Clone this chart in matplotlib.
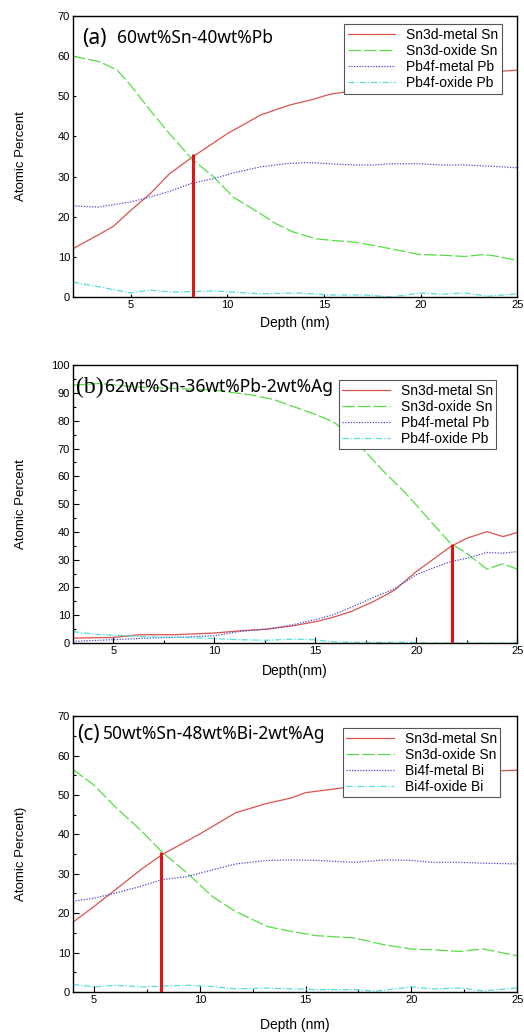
#!/usr/bin/env python3

import matplotlib
matplotlib.use('Agg')
import matplotlib.pyplot as plt
from matplotlib.ticker import MultipleLocator

plt.rcParams.update({
    'font.family': ['Liberation Sans', 'DejaVu Sans'],
    'font.size': 8,
    'xtick.labelsize': 8,
    'ytick.labelsize': 8,
    'axes.linewidth': 1.0,
    'xtick.direction': 'in',
    'ytick.direction': 'in',
})

# colours used in the original (Origin-style)
C_METAL = '#d9534f'
C_OXIDE = '#55dd44'
C_PB = '#4a4ad0'
C_PBOX = '#55dddd'
C_MARK = '#e01515'

# ---------------- panel (a): 60wt%Sn-40wt%Pb ----------------
a_sn_x = [2.0, 3.4, 4.1, 5.0, 6.0, 7.0, 8.2, 10.0, 11.7, 13.2, 14.4, 15.3, 16.0,
          17.0, 18.0, 19.0, 20.0, 21.0, 22.0, 23.0, 24.0, 25.0]
a_sn_y = [12.0, 15.7, 17.6, 21.6, 25.7, 30.7, 34.9, 40.7, 45.3, 47.8, 49.2, 50.5, 51.0,
          52.0, 53.0, 53.8, 54.5, 55.0, 55.5, 56.0, 56.2, 56.5]
a_ox_x = [2.0, 3.4, 4.3, 5.0, 6.0, 7.0, 8.2, 9.3, 10.3, 11.7, 12.5, 13.4, 14.6, 15.4,
          16.5, 17.5, 18.9, 19.9, 21.1, 22.3, 23.3, 24.0, 25.0]
a_ox_y = [60.0, 58.6, 56.5, 52.7, 46.5, 40.7, 34.2, 29.9, 24.9, 20.8, 18.3, 16.2, 14.5,
          14.1, 13.7, 12.9, 11.6, 10.6, 10.4, 10.1, 10.6, 10.1, 9.1]
a_pb_x = [2.0, 3.3, 4.1, 5.0, 6.0, 7.0, 8.2, 9.3, 10.3, 11.7, 13.0, 14.1, 15.3, 16.5,
          17.7, 18.3, 19.9, 21.1, 22.3, 23.5, 25.0]
a_pb_y = [22.7, 22.4, 23.0, 23.7, 24.9, 26.3, 28.4, 29.5, 30.9, 32.4, 33.2, 33.5, 33.2,
          32.9, 32.9, 33.2, 33.2, 32.9, 32.9, 32.6, 32.2]
a_pbo_x = [2.0, 3.4, 5.0, 6.0, 7.2, 9.3, 10.3, 11.7, 13.7, 15.3, 17.1, 18.5, 20.0,
           21.1, 22.3, 23.5, 25.0]
a_pbo_y = [3.7, 2.5, 1.0, 1.7, 1.2, 1.5, 1.2, 0.8, 1.0, 0.5, 0.5, 0.0, 1.0,
           0.7, 1.0, 0.2, 0.8]
a_mark = (8.24, 35.5)

# ---------------- panel (b): 62wt%Sn-36wt%Pb-2wt%Ag ----------------
b_sn_x = [3.0, 5.0, 6.3, 8.0, 10.0, 11.3, 12.6, 13.9, 15.1, 15.9, 16.8, 17.9, 18.9,
          20.0, 20.8, 21.7, 22.5, 23.5, 24.3, 25.0]
b_sn_y = [1.8, 2.0, 3.0, 3.0, 3.6, 4.4, 5.0, 6.2, 7.8, 9.3, 11.4, 15.0, 18.9,
          25.7, 29.9, 34.7, 37.7, 40.1, 38.3, 39.8]
b_ox_x = [3.0, 4.3, 6.0, 8.0, 10.0, 11.9, 12.9, 14.9, 15.9, 16.7, 17.4, 18.4, 19.4,
          20.0, 20.8, 21.7, 22.5, 23.5, 24.3, 25.0]
b_ox_y = [92.8, 93.4, 92.2, 91.6, 91.0, 89.2, 87.7, 82.6, 79.6, 75.0, 69.5, 61.7, 54.5,
          49.7, 43.1, 35.9, 32.3, 26.6, 28.5, 26.6]
b_pb_x = [3.0, 5.0, 6.8, 8.6, 10.0, 11.3, 12.6, 13.9, 15.1, 15.9, 16.9, 18.0, 18.9,
          20.0, 20.8, 21.7, 22.5, 23.5, 24.3, 25.0]
b_pb_y = [0.6, 1.2, 1.8, 2.2, 2.6, 4.2, 5.0, 6.6, 8.6, 10.2, 13.2, 16.8, 19.4,
          24.6, 26.9, 29.3, 30.5, 32.6, 32.3, 32.9]
b_pbo_x = [3.0, 4.3, 5.3, 6.8, 8.6, 10.0, 11.3, 12.6, 13.9, 14.9, 15.9, 17.5, 19.2,
           20.8, 23.0, 25.0]
b_pbo_y = [4.1, 3.0, 2.8, 2.2, 2.0, 1.6, 1.2, 1.0, 1.4, 1.2, 0.4, 0.2, 0.3,
           0.0, 0.0, 0.0]
b_mark = (21.75, 35.6)

# ---------------- panel (c): 50wt%Sn-48wt%Bi-2wt%Ag ----------------
c_sn_x = [4.0, 5.0, 6.0, 7.2, 8.2, 10.0, 11.7, 13.2, 14.3, 15.0, 16.2, 16.6,
          18.0, 19.0, 20.0, 21.0, 22.0, 23.0, 24.0, 25.0]
c_sn_y = [17.7, 21.7, 25.9, 31.0, 34.8, 40.1, 45.5, 47.9, 49.2, 50.6, 51.4, 51.7,
          52.8, 53.6, 54.3, 54.9, 55.4, 55.8, 56.1, 56.3]
c_ox_x = [4.0, 5.0, 6.0, 7.2, 8.2, 9.4, 10.6, 11.7, 13.2, 14.3, 15.5, 17.3, 18.7,
          20.0, 21.0, 22.3, 23.4, 25.0]
c_ox_y = [56.5, 52.5, 47.0, 41.1, 35.6, 30.2, 24.2, 20.4, 16.6, 15.4, 14.3, 13.7, 12.0,
          10.9, 10.7, 10.3, 10.9, 9.2]
c_bi_x = [4.0, 5.0, 6.0, 7.2, 8.2, 9.4, 10.6, 11.7, 13.2, 14.3, 15.5, 17.3, 18.7,
          20.0, 21.0, 22.3, 23.4, 25.0]
c_bi_y = [23.0, 23.8, 25.1, 26.8, 28.5, 29.3, 31.0, 32.5, 33.4, 33.5, 33.4, 32.9, 33.5,
          33.4, 32.9, 32.9, 32.7, 32.5]
c_bio_x = [4.0, 5.0, 6.0, 7.2, 9.4, 10.6, 11.7, 13.2, 15.5, 17.3, 18.3, 20.0,
           21.0, 22.3, 23.4, 25.0]
c_bio_y = [1.9, 1.3, 1.7, 1.3, 1.7, 1.4, 0.8, 1.0, 0.6, 0.6, 0.2, 1.3,
           0.8, 1.0, 0.3, 1.0]
c_mark = (8.17, 35.6)


def panel(ax, series, labels, mark, xlim, ylim, minor, leg_anchor):
    (x1, y1), (x2, y2), (x3, y3), (x4, y4) = series
    ax.plot(x1, y1, color=C_METAL, lw=0.9, label=labels[0])
    ax.plot(x2, y2, color=C_OXIDE, lw=0.9, dashes=(10, 2.5), label=labels[1])
    ax.plot(x3, y3, color=C_PB, lw=0.9, dashes=(1, 1.2), label=labels[2])
    ax.plot(x4, y4, color=C_PBOX, lw=0.9, dashes=(5, 1.5, 1, 1.5), label=labels[3])
    ax.vlines(mark[0], 0, mark[1], color=C_MARK, lw=2.2, zorder=5)
    ax.set_xlim(*xlim)
    ax.set_ylim(*ylim)
    ax.xaxis.set_major_locator(MultipleLocator(5))
    ax.yaxis.set_major_locator(MultipleLocator(10))
    if minor:
        ax.xaxis.set_minor_locator(MultipleLocator(2.5))
        ax.yaxis.set_minor_locator(MultipleLocator(5))
        ax.tick_params(which='major', length=4, width=0.8, pad=2)
        ax.tick_params(which='minor', length=2.5, width=0.8)
    else:
        ax.tick_params(which='major', length=2, width=0.8, pad=2)
    leg = ax.legend(loc='upper right', bbox_to_anchor=leg_anchor, fontsize=10,
                    frameon=True, fancybox=False, edgecolor='#555555', framealpha=1.0,
                    handlelength=3.4, handletextpad=0.8, borderpad=0.25,
                    labelspacing=0.15, borderaxespad=0.0)
    leg.get_frame().set_linewidth(0.8)
    leg.set_zorder(10)
    ax.set_ylabel('Atomic Percent', fontsize=9.5)
    ax.yaxis.set_label_coords(-0.104, 0.5)


fig = plt.figure(figsize=(5.24, 10.33), dpi=100)

# (a)
ax1 = fig.add_axes([0.139, 0.7125, 0.848, 0.272])
panel(ax1, [(a_sn_x, a_sn_y), (a_ox_x, a_ox_y), (a_pb_x, a_pb_y), (a_pbo_x, a_pbo_y)],
      ['Sn3d-metal Sn', 'Sn3d-oxide Sn', 'Pb4f-metal Pb', 'Pb4f-oxide Pb'],
      a_mark, (2, 25), (0, 70), False, (0.965, 0.97))
ax1.text(0.02, 0.92, '(a)', transform=ax1.transAxes, fontsize=15,
         family=['Noto Sans', 'DejaVu Sans'], va='center')
ax1.text(0.1, 0.92, '60wt%Sn-40wt%Pb', transform=ax1.transAxes, fontsize=12.5,
         family=['Noto Sans', 'DejaVu Sans'], va='center')
ax1.set_xlabel('Depth (nm)', fontsize=10)
ax1.xaxis.set_label_coords(0.5, -0.068)

# (b)
ax2 = fig.add_axes([0.139, 0.3775, 0.848, 0.269])
panel(ax2, [(b_sn_x, b_sn_y), (b_ox_x, b_ox_y), (b_pb_x, b_pb_y), (b_pbo_x, b_pbo_y)],
      ['Sn3d-metal Sn', 'Sn3d-oxide Sn', 'Pb4f-metal Pb', 'Pb4f-oxide Pb'],
      b_mark, (3, 25), (0, 100), True, (0.953, 0.946))
ax2.text(0.008, 0.92, '(b)', transform=ax2.transAxes, fontsize=17,
         family=['Liberation Serif', 'DejaVu Serif'], va='center')
ax2.text(0.073, 0.92, '62wt%Sn-36wt%Pb-2wt%Ag', transform=ax2.transAxes, fontsize=12.5,
         family=['Noto Sans', 'DejaVu Sans'], va='center')
ax2.set_xlabel('Depth(nm)', fontsize=10)
ax2.xaxis.set_label_coords(0.5, -0.076)

# (c)
ax3 = fig.add_axes([0.139, 0.0397, 0.848, 0.267])
panel(ax3, [(c_sn_x, c_sn_y), (c_ox_x, c_ox_y), (c_bi_x, c_bi_y), (c_bio_x, c_bio_y)],
      ['Sn3d-metal Sn', 'Sn3d-oxide Sn', 'Bi4f-metal Bi', 'Bi4f-oxide Bi'],
      c_mark, (4, 25), (0, 70), True, (0.962, 0.957))
ax3.text(0.01, 0.935, '(c)', transform=ax3.transAxes, fontsize=15,
         family=['Noto Sans', 'DejaVu Sans'], va='center')
ax3.text(0.068, 0.935, '50wt%Sn-48wt%Bi-2wt%Ag', transform=ax3.transAxes, fontsize=12.5,
         family=['Noto Sans', 'DejaVu Sans'], va='center')
ax3.set_ylabel('Atomic Percent)', fontsize=9.5)
ax3.set_xlabel('Depth (nm)', fontsize=10)
ax3.xaxis.set_label_coords(0.5, -0.094)

fig.savefig('out.png', dpi=100)
